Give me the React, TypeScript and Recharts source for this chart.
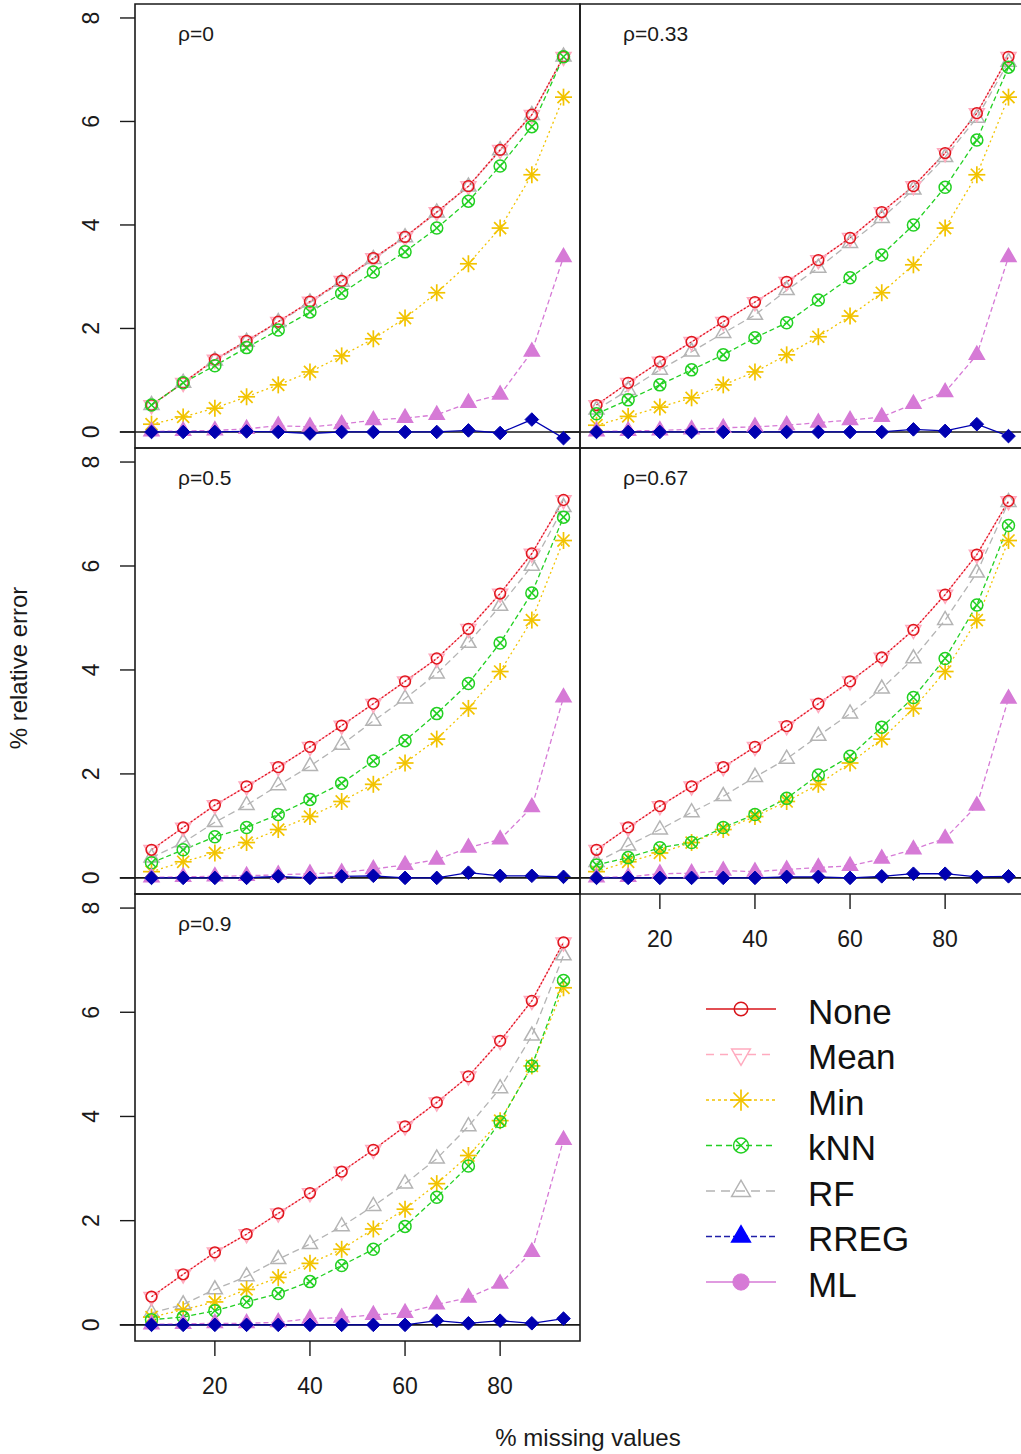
import React from "react";
import { LineChart, Line, XAxis, YAxis, ReferenceLine, ReferenceArea } from "recharts";

// % of values removed (x) — 14 levels, k/15 for k = 1..14
const MISSING_PCT = [6.67, 13.33, 20, 26.67, 33.33, 40, 46.67, 53.33, 60, 66.67, 73.33, 80, 86.67, 93.33];
const RHO_LABELS = ["ρ=0", "ρ=0.33", "ρ=0.5", "ρ=0.67", "ρ=0.9"];
const X_TICKS = [20, 40, 60, 80];
const Y_TICKS = [0, 2, 4, 6, 8];

// % relative error, one row per correlation level (ρ = 0, 0.33, 0.5, 0.67, 0.9)
const NONE_ERR = [
  [0.52, 0.95, 1.40, 1.76, 2.13, 2.52, 2.92, 3.36, 3.77, 4.25, 4.75, 5.45, 6.13, 7.25],
  [0.52, 0.95, 1.36, 1.74, 2.13, 2.51, 2.90, 3.32, 3.75, 4.25, 4.75, 5.39, 6.16, 7.25],
  [0.54, 0.97, 1.40, 1.76, 2.13, 2.52, 2.93, 3.35, 3.78, 4.22, 4.79, 5.47, 6.24, 7.27],
  [0.54, 0.97, 1.38, 1.76, 2.13, 2.52, 2.92, 3.35, 3.78, 4.24, 4.77, 5.45, 6.22, 7.25],
  [0.54, 0.97, 1.39, 1.74, 2.14, 2.53, 2.94, 3.36, 3.81, 4.27, 4.77, 5.45, 6.22, 7.34],
];
const MEAN_ERR = [
  [0.52, 0.95, 1.40, 1.76, 2.13, 2.52, 2.92, 3.36, 3.77, 4.25, 4.75, 5.45, 6.13, 7.25],
  [0.52, 0.95, 1.36, 1.74, 2.13, 2.51, 2.90, 3.32, 3.75, 4.25, 4.75, 5.39, 6.16, 7.25],
  [0.54, 0.97, 1.40, 1.76, 2.13, 2.52, 2.93, 3.35, 3.78, 4.22, 4.79, 5.47, 6.24, 7.27],
  [0.54, 0.97, 1.38, 1.76, 2.13, 2.52, 2.92, 3.35, 3.78, 4.24, 4.77, 5.45, 6.22, 7.25],
  [0.54, 0.97, 1.39, 1.74, 2.14, 2.53, 2.94, 3.36, 3.81, 4.27, 4.77, 5.45, 6.22, 7.34],
];
const MIN_ERR = [
  [0.15, 0.29, 0.46, 0.68, 0.91, 1.16, 1.47, 1.80, 2.20, 2.69, 3.25, 3.94, 4.97, 6.47],
  [0.13, 0.30, 0.48, 0.66, 0.91, 1.16, 1.49, 1.84, 2.24, 2.69, 3.23, 3.94, 4.97, 6.47],
  [0.12, 0.31, 0.48, 0.68, 0.93, 1.18, 1.47, 1.80, 2.21, 2.67, 3.26, 3.97, 4.96, 6.49],
  [0.12, 0.31, 0.48, 0.68, 0.93, 1.18, 1.47, 1.80, 2.21, 2.67, 3.26, 3.97, 4.96, 6.49],
  [0.15, 0.29, 0.44, 0.68, 0.91, 1.18, 1.45, 1.84, 2.22, 2.71, 3.25, 3.92, 4.97, 6.47],
];
const KNN_ERR = [
  [0.52, 0.95, 1.28, 1.63, 1.97, 2.32, 2.68, 3.09, 3.48, 3.94, 4.46, 5.14, 5.90, 7.25],
  [0.35, 0.62, 0.91, 1.20, 1.49, 1.82, 2.11, 2.55, 2.98, 3.42, 4.00, 4.73, 5.64, 7.05],
  [0.29, 0.54, 0.79, 0.97, 1.22, 1.51, 1.82, 2.25, 2.64, 3.16, 3.74, 4.52, 5.48, 6.94],
  [0.25, 0.39, 0.58, 0.68, 0.97, 1.22, 1.53, 1.98, 2.34, 2.90, 3.47, 4.22, 5.25, 6.78],
  [0.10, 0.15, 0.27, 0.44, 0.60, 0.83, 1.14, 1.45, 1.89, 2.45, 3.05, 3.90, 4.97, 6.61],
];
const RF_ERR = [
  [0.52, 0.95, 1.38, 1.74, 2.12, 2.50, 2.90, 3.34, 3.76, 4.24, 4.74, 5.44, 6.12, 7.25],
  [0.43, 0.81, 1.20, 1.55, 1.91, 2.26, 2.74, 3.17, 3.65, 4.13, 4.68, 5.31, 6.07, 7.15],
  [0.39, 0.68, 1.07, 1.40, 1.78, 2.15, 2.56, 3.02, 3.45, 3.93, 4.52, 5.23, 6.00, 7.13],
  [0.30, 0.62, 0.93, 1.26, 1.57, 1.94, 2.29, 2.73, 3.16, 3.64, 4.22, 4.96, 5.87, 7.23],
  [0.23, 0.39, 0.68, 0.93, 1.26, 1.55, 1.89, 2.28, 2.71, 3.19, 3.81, 4.54, 5.55, 7.09],
];
const RREG_ERR = [
  [0.00, 0.00, 0.00, 0.01, 0.00, -0.03, 0.00, 0.00, 0.00, 0.00, 0.03, -0.02, 0.24, -0.12],
  [0.00, 0.00, 0.00, 0.00, 0.00, 0.00, 0.00, 0.00, 0.00, 0.00, 0.05, 0.02, 0.15, -0.08],
  [0.00, 0.00, 0.00, 0.00, 0.03, 0.00, 0.03, 0.04, 0.00, 0.00, 0.10, 0.04, 0.04, 0.02],
  [0.00, 0.00, 0.00, 0.00, 0.00, 0.00, 0.02, 0.02, 0.00, 0.03, 0.08, 0.08, 0.02, 0.03],
  [0.00, 0.00, 0.00, 0.00, 0.00, 0.00, 0.00, 0.00, 0.00, 0.08, 0.03, 0.08, 0.03, 0.12],
];
const ML_ERR = [
  [0.01, 0.02, 0.03, 0.06, 0.12, 0.10, 0.15, 0.23, 0.27, 0.33, 0.56, 0.72, 1.55, 3.38],
  [0.01, 0.02, 0.03, 0.05, 0.08, 0.10, 0.13, 0.18, 0.23, 0.29, 0.54, 0.77, 1.49, 3.38],
  [0.01, 0.02, 0.03, 0.04, 0.06, 0.08, 0.10, 0.17, 0.25, 0.35, 0.58, 0.74, 1.36, 3.47],
  [0.01, 0.02, 0.08, 0.09, 0.14, 0.12, 0.16, 0.20, 0.23, 0.37, 0.55, 0.76, 1.39, 3.45],
  [0.01, 0.02, 0.03, 0.03, 0.05, 0.12, 0.14, 0.19, 0.23, 0.39, 0.52, 0.79, 1.40, 3.55],
];

const FONT = "'Liberation Sans', Arial, Helvetica, sans-serif";
const INK = "#1a1a1a";
const X_DOMAIN: [number, number] = [3.2, 96.8];
const Y_DOMAIN: [number, number] = [-0.31, 8.27];
const PLOT_W = 445;

type MarkerKind = "circle" | "triDown" | "triUp" | "star" | "circleX" | "diamond" | "triUpFilled" | "dotFilled";

// series in drawing order (later ones sit on top)
const SERIES = [
  { key: "rf", color: "#b4b4b4", dash: "7 4", marker: "triUp" as MarkerKind, values: RF_ERR },
  { key: "mean", color: "#ffabbf", dash: undefined, marker: "triDown" as MarkerKind, values: MEAN_ERR },
  { key: "none", color: "#e0161c", dash: "2 2", marker: "circle" as MarkerKind, values: NONE_ERR },
  { key: "min", color: "#f2c300", dash: "2 3", marker: "star" as MarkerKind, values: MIN_ERR },
  { key: "knn", color: "#22d022", dash: "5 3", marker: "circleX" as MarkerKind, values: KNN_ERR },
  { key: "ml", color: "#d67ad6", dash: "5 3", marker: "triUpFilled" as MarkerKind, values: ML_ERR },
  { key: "rreg", color: "#0000b0", dash: undefined, marker: "diamond" as MarkerKind, values: RREG_ERR },
];

// legend rows with their own line styles and symbols
const LEGEND = [
  { name: "None", color: "#d8141a", line: "#d8141a", dash: undefined, marker: "circle" as MarkerKind },
  { name: "Mean", color: "#ffabbf", line: "#ffabbf", dash: "8 6", marker: "triDown" as MarkerKind },
  { name: "Min", color: "#f2c300", line: "#f2c300", dash: "3 3", marker: "star" as MarkerKind },
  { name: "kNN", color: "#22d022", line: "#22d022", dash: "6 4", marker: "circleX" as MarkerKind },
  { name: "RF", color: "#b4b4b4", line: "#b4b4b4", dash: "9 6", marker: "triUp" as MarkerKind },
  { name: "RREG", color: "#0000ff", line: "#2020a8", dash: "6 3", marker: "triUpFilled" as MarkerKind },
  { name: "ML", color: "#d67ad6", line: "#d67ad6", dash: undefined, marker: "dotFilled" as MarkerKind },
];

const PANELS = [
  { x: 135, y: 4, h: 444, yAxis: true, xAxis: false },
  { x: 580, y: 4, h: 444, yAxis: false, xAxis: false },
  { x: 135, y: 448, h: 446, yAxis: true, xAxis: false },
  { x: 580, y: 448, h: 446, yAxis: false, xAxis: true },
  { x: 135, y: 894, h: 447, yAxis: true, xAxis: true },
];

function Marker({ kind, cx, cy, color, s = 1 }: { kind: MarkerKind; cx: number; cy: number; color: string; s?: number }) {
  const sw = 1.5;
  switch (kind) {
    case "circle":
      return <circle cx={cx} cy={cy} r={5.4 * s} fill="none" stroke={color} strokeWidth={sw} />;
    case "triDown": {
      const w = 7.5 * s, h = 13 * s;
      const pts = `${cx - w},${cy - h / 3} ${cx + w},${cy - h / 3} ${cx},${cy + (2 * h) / 3}`;
      return <polygon points={pts} fill="none" stroke={color} strokeWidth={sw} />;
    }
    case "triUp":
    case "triUpFilled": {
      const w = 7.5 * s, h = 13 * s;
      const pts = `${cx - w},${cy + h / 3} ${cx + w},${cy + h / 3} ${cx},${cy - (2 * h) / 3}`;
      const filled = kind === "triUpFilled";
      return <polygon points={pts} fill={filled ? color : "none"} stroke={color} strokeWidth={sw} />;
    }
    case "star": {
      const r = 8.5 * s, d = r * 0.7071;
      return (
        <g stroke={color} strokeWidth={1.7}>
          <line x1={cx - r} y1={cy} x2={cx + r} y2={cy} />
          <line x1={cx} y1={cy - r} x2={cx} y2={cy + r} />
          <line x1={cx - d} y1={cy - d} x2={cx + d} y2={cy + d} />
          <line x1={cx - d} y1={cy + d} x2={cx + d} y2={cy - d} />
        </g>
      );
    }
    case "circleX": {
      const r = 6 * s, d = r * 0.7071;
      return (
        <g stroke={color} strokeWidth={sw} fill="none">
          <circle cx={cx} cy={cy} r={r} />
          <line x1={cx - d} y1={cy - d} x2={cx + d} y2={cy + d} />
          <line x1={cx - d} y1={cy + d} x2={cx + d} y2={cy - d} />
        </g>
      );
    }
    case "diamond": {
      const r = 6.8 * s;
      const pts = `${cx},${cy - r} ${cx + r},${cy} ${cx},${cy + r} ${cx - r},${cy}`;
      return <polygon points={pts} fill={color} stroke={color} strokeWidth={1} />;
    }
    case "dotFilled":
      return <circle cx={cx} cy={cy} r={6.5 * s} fill={color} stroke={color} />;
  }
  return null;
}

function YTick(props: any) {
  const { x, y, payload } = props;
  const bx = x - 19;
  return (
    <text x={bx} y={y} transform={`rotate(-90, ${bx}, ${y})`} textAnchor="middle"
      fontFamily={FONT} fontSize={23} fill={INK}>
      {payload.value}
    </text>
  );
}

function XTick(props: any) {
  const { x, y, payload } = props;
  return (
    <text x={x} y={y + 28} textAnchor="middle" dominantBaseline="central"
      fontFamily={FONT} fontSize={23} fill={INK}>
      {payload.value}
    </text>
  );
}

function Panel({ idx }: { idx: number }) {
  const spec = PANELS[idx];
  const data = MISSING_PCT.map((x, i) => {
    const row: Record<string, number> = { x };
    SERIES.forEach((s) => {
      row[s.key] = s.values[idx][i];
    });
    return row;
  });
  const ML = 60, MT = 12, MR = 12, MB = 60;
  const width = PLOT_W + ML + MR;
  const height = spec.h + MT + MB;
  return (
    <div style={{ position: "absolute", left: spec.x - ML, top: spec.y - MT, width, height }}>
      <LineChart
        width={width}
        height={height}
        data={data}
        margin={{ top: MT, right: MR, bottom: spec.xAxis ? 0 : MB, left: spec.yAxis ? 0 : ML }}
      >
        <XAxis
          type="number"
          dataKey="x"
          domain={X_DOMAIN}
          allowDataOverflow
          ticks={X_TICKS}
          interval={0}
          hide={!spec.xAxis}
          height={MB}
          axisLine={false}
          tickSize={15}
          tickLine={{ stroke: INK, strokeWidth: 1.4 }}
          tick={XTick}
        />
        <YAxis
          type="number"
          domain={Y_DOMAIN}
          allowDataOverflow
          ticks={Y_TICKS}
          interval={0}
          hide={!spec.yAxis}
          width={ML}
          axisLine={false}
          tickSize={15}
          tickLine={{ stroke: INK, strokeWidth: 1.4 }}
          tick={YTick}
        />
        <ReferenceArea
          x1={X_DOMAIN[0]}
          x2={X_DOMAIN[1]}
          y1={Y_DOMAIN[0]}
          y2={Y_DOMAIN[1]}
          fill="none"
          fillOpacity={0}
          stroke={INK}
          strokeWidth={1.6}
          ifOverflow="visible"
        />
        <ReferenceLine
          segment={[{ x: 0, y: 0 }, { x: X_DOMAIN[1], y: 0 }]}
          stroke={INK}
          strokeWidth={1.6}
          ifOverflow="visible"
        />
        {SERIES.map((s) => (
          <Line
            key={s.key}
            type="linear"
            dataKey={s.key}
            stroke={s.color}
            strokeWidth={1.3}
            strokeDasharray={s.dash}
            isAnimationActive={false}
            activeDot={false}
            dot={(p: any) => (
              <Marker key={`${s.key}-${p.index}`} kind={s.marker} cx={p.cx} cy={p.cy} color={s.color} />
            )}
          />
        ))}
      </LineChart>
    </div>
  );
}

export default function App() {
  const rowY = (i: number) => 1009 + i * 45.5;
  return (
    <div style={{ position: "absolute", left: 0, top: 0, width: 1021, height: 1454, overflow: "hidden", background: "#fff" }}>
      {PANELS.map((_, i) => (
        <Panel key={i} idx={i} />
      ))}
      <svg width={1021} height={1454} style={{ position: "absolute", left: 0, top: 0, pointerEvents: "none" }}>
        {PANELS.map((p, i) => (
          <text key={i} x={p.x + 43} y={p.y + 37} fontFamily={FONT} fontSize={21} fill={INK}>
            {RHO_LABELS[i]}
          </text>
        ))}
        <text x={18} y={668} transform="rotate(-90, 18, 668)" textAnchor="middle" dominantBaseline="central"
          fontFamily={FONT} fontSize={24} fill={INK}>
          % relative error
        </text>
        <text x={588} y={1437} textAnchor="middle" dominantBaseline="central" fontFamily={FONT} fontSize={24} fill={INK}>
          % missing values
        </text>
        {LEGEND.map((l, i) => (
          <g key={l.name}>
            <line x1={706} y1={rowY(i)} x2={776} y2={rowY(i)} stroke={l.line} strokeWidth={1.5} strokeDasharray={l.dash} />
            <Marker kind={l.marker} cx={741} cy={rowY(i)} color={l.color} s={1.25} />
            <text x={808} y={rowY(i) + 2} dominantBaseline="central" fontFamily={FONT} fontSize={35} fill="#111">
              {l.name}
            </text>
          </g>
        ))}
      </svg>
    </div>
  );
}
